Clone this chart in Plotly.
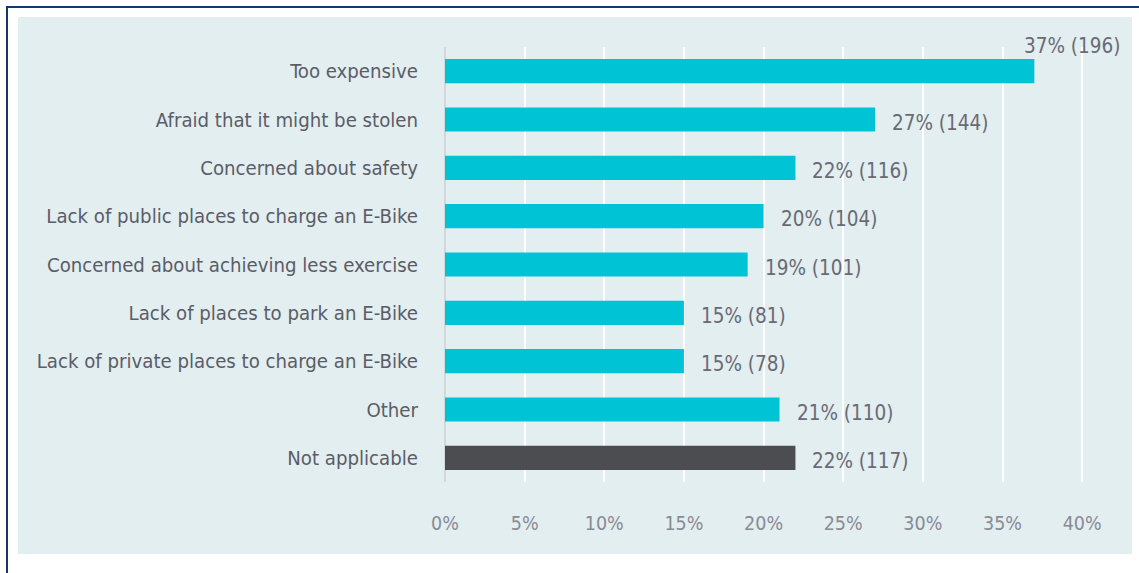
import plotly.graph_objects as go

categories = [
    "Too expensive",
    "Afraid that it might be stolen",
    "Concerned about safety",
    "Lack of public places to charge an E-Bike",
    "Concerned about achieving less exercise",
    "Lack of places to park an E-Bike",
    "Lack of private places to charge an E-Bike",
    "Other",
    "Not applicable",
]
percent = [37, 27, 22, 20, 19, 15, 15, 21, 22]
counts = [196, 144, 116, 104, 101, 81, 78, 110, 117]
tick_vals = [0, 5, 10, 15, 20, 25, 30, 35, 40]
tick_text = ["0%", "5%", "10%", "15%", "20%", "25%", "30%", "35%", "40%"]

CYAN = "#00c4d6"
DARK = "#4c4d51"
colors = [DARK if c == "Not applicable" else CYAN for c in categories]

FONT = "Liberation Sans Narrow, DejaVu Sans Condensed, Roboto Condensed, Arial Narrow, sans-serif"

W, H = 1139, 573
ML, MR, MT, MB = 445, 25, 47, 91
PW, PH = W - ML - MR, H - MT - MB


def px(x):
    return (x - ML) / PW


def py(y):
    return 1 - (y - MT) / PH


fig = go.Figure(
    go.Bar(
        x=percent,
        y=categories,
        orientation="h",
        marker=dict(color=colors, line=dict(width=0)),
        hoverinfo="skip",
    )
)

annotations = []
for i, (cat, p, n) in enumerate(zip(categories, percent, counts)):
    txt = f"{p}% ({n})"
    if i == 0:
        annotations.append(dict(x=p, y=cat, xref="x", yref="y", text=txt, showarrow=False,
                                xanchor="left", yanchor="middle", xshift=-12, yshift=25,
                                font=dict(family=FONT, size=20.5, color="#6a6a76")))
    else:
        annotations.append(dict(x=p, y=cat, xref="x", yref="y", text=txt, showarrow=False,
                                xanchor="left", yanchor="middle", xshift=15, yshift=-3,
                                font=dict(family=FONT, size=20.5, color="#6a6a76")))

shapes = [
    dict(type="rect", xref="paper", yref="paper", x0=px(18), x1=px(1132), y0=py(17), y1=py(554),
         fillcolor="#e2eef0", line=dict(width=0), layer="below"),
    dict(type="rect", xref="paper", yref="paper", x0=px(7), x1=px(1160), y0=py(7), y1=py(600),
         fillcolor="rgba(0,0,0,0)", line=dict(color="#123a68", width=2), layer="above"),
]

fig.update_layout(
    width=W, height=H,
    margin=dict(l=ML, r=MR, t=MT, b=MB),
    paper_bgcolor="white",
    plot_bgcolor="rgba(0,0,0,0)",
    bargap=0.5,
    showlegend=False,
    shapes=shapes,
    annotations=annotations,
    font=dict(family=FONT),
)
fig.update_xaxes(
    range=[0, 42],
    tickvals=tick_vals, ticktext=tick_text,
    showgrid=True, gridcolor="white", gridwidth=1.5,
    zeroline=True, zerolinecolor="#d2d7da", zerolinewidth=1.5,
    showline=False, ticks="",
    tickfont=dict(family=FONT, size=19.5, color="#8a8a96"),
    ticklabelstandoff=27,
    fixedrange=True,
)
fig.update_yaxes(
    autorange="reversed",
    showgrid=False, zeroline=False, showline=False, ticks="",
    tickfont=dict(family=FONT, size=20.2, color="#5c5c68"),
    ticklabelstandoff=26,
    fixedrange=True,
)

fig.write_html("out.html", config={"displayModeBar": False},
               post_script="document.body.style.margin='0';document.body.style.padding='0';")
